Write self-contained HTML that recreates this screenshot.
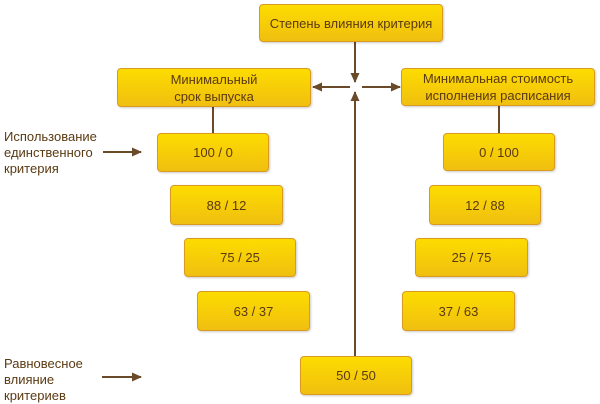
<!DOCTYPE html>
<html><head><meta charset="utf-8"><style>
body{margin:0;width:600px;height:400px;background:#fff;position:relative;overflow:hidden;font-family:"Liberation Sans",sans-serif;}
.b{position:absolute;box-sizing:border-box;border:1.5px solid #d99a22;border-radius:4px;background:linear-gradient(#fddc00,#f0bf10);color:#5a3a12;font-size:13px;display:flex;align-items:center;justify-content:center;text-align:center;line-height:17px;box-shadow:1px 1px 2px rgba(0,0,0,0.2);}
.t{position:absolute;color:#5a3a12;font-size:13px;line-height:16px;}
svg{position:absolute;left:0;top:0}
</style></head><body>
<svg width="600" height="400">
<defs><marker id="a" markerWidth="10" markerHeight="10" refX="9" refY="4.5" orient="auto" markerUnits="userSpaceOnUse"><path d="M0,0L10,4.5L0,9z" fill="#6b4a2a"/></marker></defs>
<g stroke="#6b4a2a" stroke-width="2" fill="none">
<line x1="355" y1="42" x2="355" y2="82" marker-end="url(#a)"/>
<line x1="355" y1="356" x2="355" y2="92" marker-end="url(#a)"/>
<line x1="350" y1="87" x2="313" y2="87" marker-end="url(#a)"/>
<line x1="362" y1="87" x2="400" y2="87" marker-end="url(#a)"/>
<line x1="213" y1="107" x2="213" y2="133"/>
<line x1="499" y1="106" x2="499" y2="133"/>
<line x1="103" y1="152" x2="141" y2="152" marker-end="url(#a)"/>
<line x1="102" y1="377" x2="141" y2="377" marker-end="url(#a)"/>
</g></svg>
<div class="b" style="left:259px;top:4px;width:184px;height:38px">Степень влияния критерия</div>
<div class="b" style="left:117px;top:68px;width:194px;height:39px">Минимальный<br>срок выпуска</div>
<div class="b" style="left:401px;top:68px;width:194px;height:38px">Минимальная стоимость<br>исполнения расписания</div>
<div class="b" style="left:157px;top:133px;width:112px;height:39px">100 / 0</div>
<div class="b" style="left:170px;top:185px;width:113px;height:40px">88 / 12</div>
<div class="b" style="left:184px;top:238px;width:112px;height:39px">75 / 25</div>
<div class="b" style="left:197px;top:291px;width:113px;height:40px">63 / 37</div>
<div class="b" style="left:443px;top:133px;width:112px;height:38px">0 / 100</div>
<div class="b" style="left:429px;top:185px;width:112px;height:40px">12 / 88</div>
<div class="b" style="left:415px;top:238px;width:113px;height:39px">25 / 75</div>
<div class="b" style="left:402px;top:291px;width:113px;height:40px">37 / 63</div>
<div class="b" style="left:300px;top:356px;width:112px;height:39px">50 / 50</div>
<div class="t" style="left:4px;top:129px">Использование<br>единственного<br>критерия</div>
<div class="t" style="left:4px;top:356px">Равновесное<br>влияние<br>критериев</div>
</body></html>
